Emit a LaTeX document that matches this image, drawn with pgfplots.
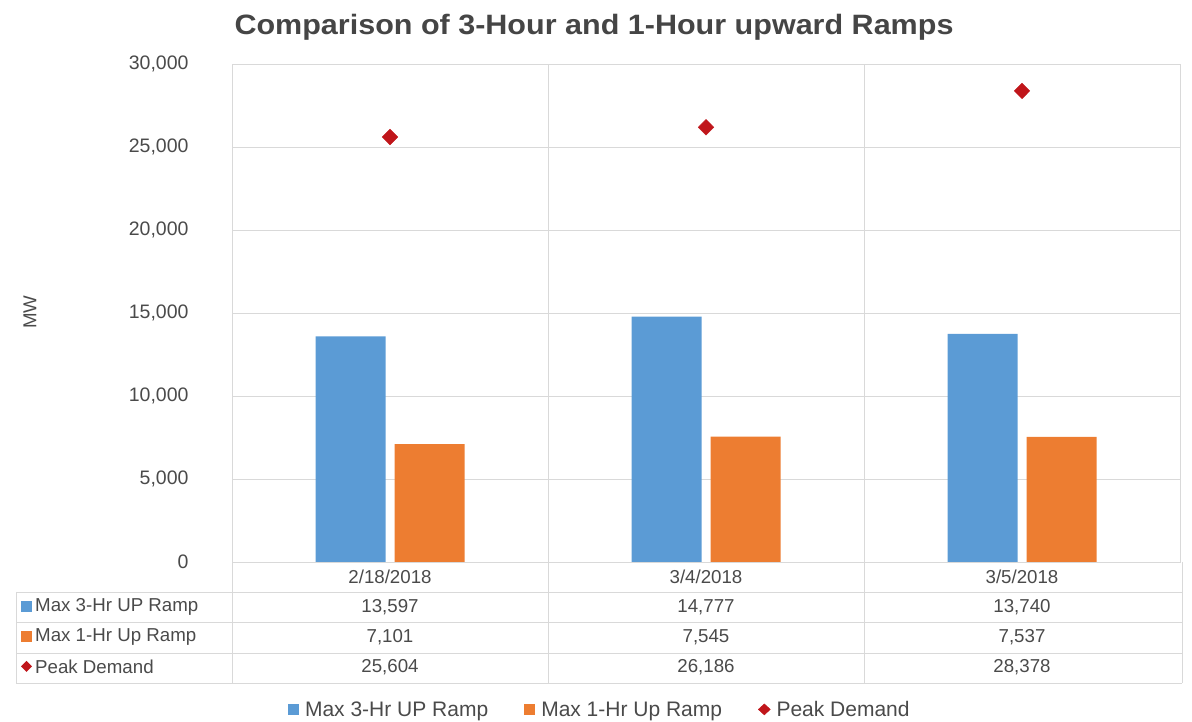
\documentclass[border=0pt]{standalone}
\usepackage{pgfplots}
\pgfplotsset{compat=1.18}
\usepackage{fontspec}
\setmainfont{Liberation Sans}
\definecolor{cblue}{HTML}{5B9BD5}
\definecolor{corange}{HTML}{ED7D31}
\definecolor{cred}{HTML}{C0161B}
\definecolor{gridc}{HTML}{D9D9D9}
\definecolor{txt}{HTML}{4A4A4A}
\definecolor{ttl}{HTML}{454545}
\newcommand{\fs}{\fontsize{18.7bp}{22bp}\selectfont}
\newcommand{\fst}{\fontsize{19.5bp}{23bp}\selectfont}
\newcommand{\fsl}{\fontsize{21bp}{24bp}\selectfont}
\begin{document}
\begin{tikzpicture}[x=1bp,y=1bp]
\useasboundingbox (0,0) rectangle (1192,722);
% title
\node[text=ttl,font=\fontsize{28bp}{32bp}\selectfont\bfseries, xscale=1.09] at (594,695) {Comparison of 3-Hour and 1-Hour upward Ramps};
% axis title
\node[text=txt,font=\fs,rotate=90] at (30,410) {MW};
\begin{axis}[
  at={(232bp,160bp)}, anchor=south west,
  scale only axis, width=948bp, height=498bp,
  xmin=-0.5, xmax=2.5, ymin=0, ymax=30000,
  ytick={0,5000,...,30000},
  scaled y ticks=false,
  xtick={0.5,1.5}, xticklabels={},
  ymajorgrids, xmajorgrids,
  grid style={gridc, line width=0.9bp},
  axis line style={gridc, line width=0.9bp},
  major tick length=0,
  /pgf/number format/assume math mode=true,
  yticklabel={\pgfmathprintnumber[fixed,precision=0,1000 sep={,}]{\tick}},
  yticklabel style={font=\fst, text=txt, anchor=east, xshift=-40bp},
  ybar=9bp, bar width=70bp,
  legend style={at={(0.388,-0.297)}, anchor=center, draw=none, fill=none,
    font=\fsl, text=txt, legend columns=3,
    /tikz/every odd column/.append style={column sep=4bp},
    /tikz/every even column/.append style={column sep=34bp}},
  legend cell align=left,
]
\addplot[draw=none, fill=cblue, area legend,
  legend image code/.code={\fill[cblue] (0bp,-5bp) rectangle (11bp,6bp);}]
  coordinates {(0,13597) (1,14777) (2,13740)};
\addlegendentry{Max 3-Hr UP Ramp}
\addplot[draw=none, fill=corange, area legend,
  legend image code/.code={\fill[corange] (0bp,-5bp) rectangle (11bp,6bp);}]
  coordinates {(0,7101) (1,7545) (2,7537)};
\addlegendentry{Max 1-Hr Up Ramp}
\addplot[only marks, mark=diamond*, mark size=7.8bp, color=cred,
  mark options={xscale=1.33, fill=cred, draw=cred},
  legend image code/.code={\fill[cred] (6bp,6bp) -- (12bp,0.5bp) -- (6bp,-5bp) -- (0bp,0.5bp) -- cycle;}]
  coordinates {(0,25604) (1,26186) (2,28378)};
\addlegendentry{Peak Demand}
\end{axis}
% data table
\begin{scope}[gridc, line width=0.9bp]
\draw (232,160) -- (232,39);
\draw (548,160) -- (548,39);
\draw (864,160) -- (864,39);
\draw (1182,160) -- (1182,39);
\draw (16,130) -- (16,39);
\draw (16,130) -- (1182,130);
\draw (16,100) -- (1182,100);
\draw (16,69) -- (1182,69);
\draw (16,39) -- (1182,39);
\end{scope}
\begin{scope}[every node/.style={font=\fs, text=txt}]
\node at (390,145) {2/18/2018};
\node at (706,145) {3/4/2018};
\node at (1022,145) {3/5/2018};
\node at (390,115) {13,597};
\node at (706,115) {14,777};
\node at (1022,115) {13,740};
\node at (390,85) {7,101};
\node at (706,85) {7,545};
\node at (1022,85) {7,537};
\node at (390,55) {25,604};
\node at (706,55) {26,186};
\node at (1022,55) {28,378};
\node[anchor=west,inner sep=0pt] at (35,115) {Max 3-Hr UP Ramp};
\node[anchor=west,inner sep=0pt] at (35,85) {Max 1-Hr Up Ramp};
\node[anchor=west,inner sep=0pt] at (35,55) {Peak Demand};
\end{scope}
\fill[cblue] (21,110) rectangle (32,121);
\fill[corange] (21,80) rectangle (32,91);
\fill[cred] (26.5,61) -- (32,55.5) -- (26.5,50) -- (21,55.5) -- cycle;
\end{tikzpicture}
\end{document}
